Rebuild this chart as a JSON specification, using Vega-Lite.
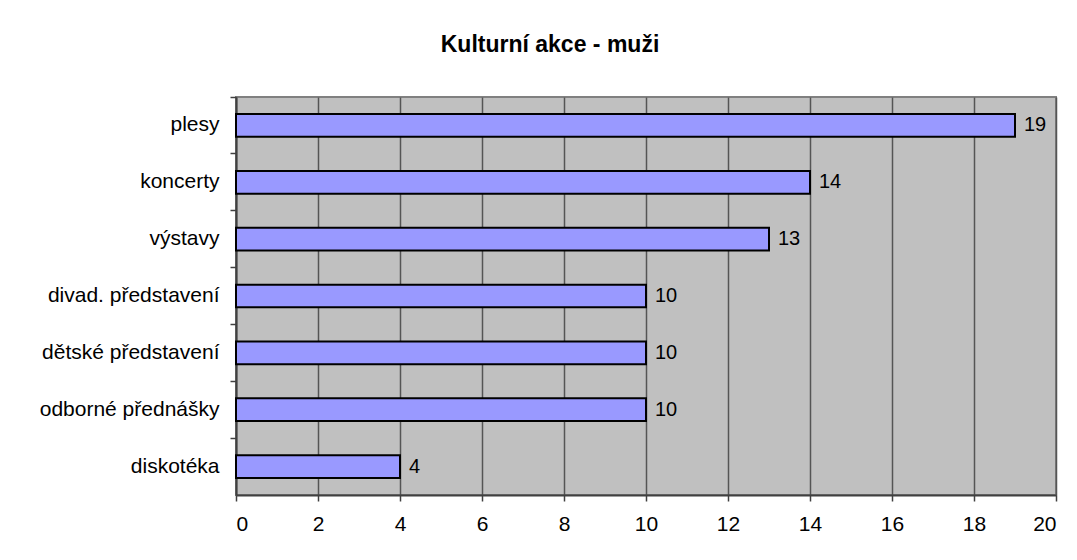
{
  "$schema": "https://vega.github.io/schema/vega-lite/v6.json",
  "autosize": {"type": "none"},
  "width": 820,
  "height": 398,
  "padding": {"left": 236, "top": 97, "right": 21, "bottom": 65},
  "background": "white",
  "title": {
    "text": "Kulturní akce - muži",
    "font": "Liberation Sans",
    "fontSize": 23,
    "fontWeight": "bold",
    "color": "black",
    "anchor": "middle",
    "baseline": "alphabetic",
    "offset": 21,
    "dx": -96
  },
  "data": {
    "values": [
      {"akce": "plesy", "pocet": 19},
      {"akce": "koncerty", "pocet": 14},
      {"akce": "výstavy", "pocet": 13},
      {"akce": "divad. představení", "pocet": 10},
      {"akce": "dětské představení", "pocet": 10},
      {"akce": "odborné přednášky", "pocet": 10},
      {"akce": "diskotéka", "pocet": 4}
    ]
  },
  "encoding": {
    "y": {
      "field": "akce",
      "type": "nominal",
      "sort": null,
      "scale": {"paddingInner": 0, "paddingOuter": 0},
      "axis": {
        "title": null,
        "bandPosition": 0,
        "domainColor": "#404040",
        "domainWidth": 2,
        "tickColor": "#404040",
        "tickWidth": 1.5,
        "tickSize": 6,
        "labelFont": "Liberation Sans",
        "labelFontSize": 21,
        "labelColor": "black",
        "labelPadding": 11,
        "grid": false
      }
    },
    "x": {
      "field": "pocet",
      "type": "quantitative",
      "scale": {"domain": [0, 20], "nice": false},
      "axis": {
        "title": null,
        "values": [0, 2, 4, 6, 8, 10, 12, 14, 16, 18, 20],
        "domainColor": "#404040",
        "domainWidth": 2,
        "tickColor": "#404040",
        "tickWidth": 1.5,
        "tickSize": 6,
        "labelFont": "Liberation Sans",
        "labelFontSize": 21,
        "labelColor": "black",
        "labelPadding": 12,
        "grid": true,
        "gridColor": "#555555",
        "gridWidth": 1.5
      }
    }
  },
  "layer": [
    {
      "mark": {
        "type": "bar",
        "height": {"band": 0.4},
        "fill": "#9999FF",
        "stroke": "black",
        "strokeWidth": 2
      }
    },
    {
      "mark": {
        "type": "text",
        "align": "left",
        "baseline": "middle",
        "dx": 9,
        "font": "Liberation Sans",
        "fontSize": 20,
        "color": "black"
      },
      "encoding": {"text": {"field": "pocet", "type": "quantitative"}}
    }
  ],
  "config": {
    "view": {"fill": "#C0C0C0", "stroke": "#808080", "strokeWidth": 2}
  }
}
